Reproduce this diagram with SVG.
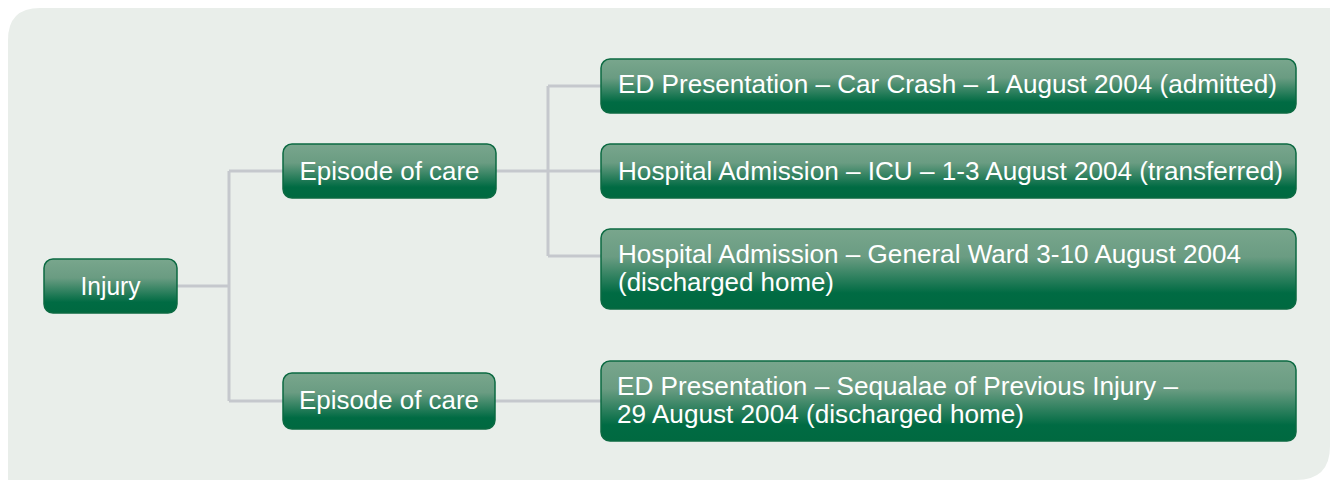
<svg xmlns="http://www.w3.org/2000/svg" width="1330" height="481" viewBox="0 0 1330 481">
  <defs>
    <linearGradient id="boxGrad" x1="0" y1="0" x2="0" y2="1">
      <stop offset="0" stop-color="#79a68d"/>
      <stop offset="0.35" stop-color="#6a9c82"/>
      <stop offset="0.8" stop-color="#006b43"/>
      <stop offset="1" stop-color="#006940"/>
    </linearGradient>
    <style>
      .box { fill: url(#boxGrad); stroke: #0b6a42; stroke-width: 1.5; }
      .conn { fill: none; stroke: #c5c8cd; stroke-width: 3; }
      .lbl { font-family: "Liberation Sans", Arial, sans-serif; font-size: 25px; fill: #ffffff; }
      .mid { text-anchor: middle; }
    </style>
  </defs>

  <rect width="1330" height="481" fill="#ffffff"/>
  <path d="M8,480 L8,40 Q8,8 40,8 L1330,8 L1330,446 Q1330,480 1296,480 Z" fill="#e9eeea"/>

  <g id="connectors">
    <path class="conn" d="M177,286 H229"/>
    <path class="conn" d="M229,171 V401"/>
    <path class="conn" d="M229,171 H283"/>
    <path class="conn" d="M229,401 H283"/>
    <path class="conn" d="M496,171 H601"/>
    <path class="conn" d="M548,86 V256"/>
    <path class="conn" d="M548,86 H601"/>
    <path class="conn" d="M548,256 H601"/>
    <path class="conn" d="M495,401 H601"/>
  </g>

  <g id="injury">
    <rect class="box" x="44" y="259" width="133" height="54" rx="9"/>
    <text class="lbl mid" x="110.5" y="295" textLength="60" lengthAdjust="spacingAndGlyphs">Injury</text>
  </g>

  <g id="episode1">
    <rect class="box" x="283" y="144" width="213" height="54" rx="9"/>
    <text class="lbl mid" x="389.5" y="179.5" textLength="180" lengthAdjust="spacingAndGlyphs">Episode of care</text>
  </g>

  <g id="episode2">
    <rect class="box" x="283" y="373" width="212" height="56" rx="9"/>
    <text class="lbl mid" x="389" y="408.5" textLength="180" lengthAdjust="spacingAndGlyphs">Episode of care</text>
  </g>

  <g id="ed1">
    <rect class="box" x="601" y="59" width="695" height="54" rx="9"/>
    <text class="lbl" x="618" y="93" textLength="659" lengthAdjust="spacingAndGlyphs">ED Presentation – Car Crash – 1 August 2004 (admitted)</text>
  </g>

  <g id="icu">
    <rect class="box" x="601" y="144" width="695" height="54" rx="9"/>
    <text class="lbl" x="618" y="179.5" textLength="665" lengthAdjust="spacingAndGlyphs">Hospital Admission – ICU – 1-3 August 2004 (transferred)</text>
  </g>

  <g id="ward">
    <rect class="box" x="601" y="229" width="695" height="80" rx="9"/>
    <text class="lbl" x="618" y="263" textLength="623" lengthAdjust="spacingAndGlyphs">Hospital Admission – General Ward 3-10 August 2004</text>
    <text class="lbl" x="618" y="290.5" textLength="216" lengthAdjust="spacingAndGlyphs">(discharged home)</text>
  </g>

  <g id="ed2">
    <rect class="box" x="601" y="361" width="695" height="80" rx="9"/>
    <text class="lbl" x="617" y="395" textLength="561" lengthAdjust="spacingAndGlyphs">ED Presentation – Sequalae of Previous Injury –</text>
    <text class="lbl" x="617" y="423" textLength="407" lengthAdjust="spacingAndGlyphs">29 August 2004 (discharged home)</text>
  </g>
</svg>
